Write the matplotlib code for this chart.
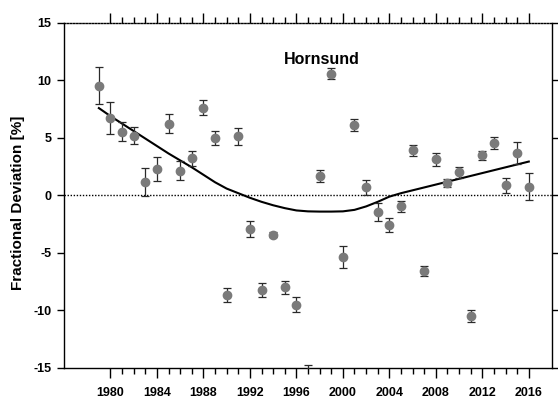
import matplotlib
matplotlib.use("Agg")
import matplotlib.pyplot as plt
from matplotlib.ticker import FixedLocator

plt.rcParams['font.family'] = ['Liberation Sans', 'DejaVu Sans']
plt.rcParams['axes.unicode_minus'] = False

# Annual fractional deviation at Hornsund with 1-sigma errors
years = list(range(1979, 2017))
deviation = [9.55, 6.71, 5.55, 5.2, 1.17, 2.28, 6.25, 2.16, 3.23, 7.64,
             5.0, -8.62, 5.14, -2.91, -8.22, -3.4, -7.98, -9.49, -15.4, 1.7,
             10.59, -5.38, 6.13, 0.71, -1.41, -2.57, -0.94, 3.93, -6.59, 3.15,
             1.11, 2.04, -10.48, 3.49, 4.57, 0.88, 3.72, 0.77]
errors = [1.6, 1.4, 0.8, 0.75, 1.25, 1.05, 0.85, 0.85, 0.65, 0.65,
          0.6, 0.6, 0.75, 0.68, 0.65, 0.25, 0.58, 0.68, 0.7, 0.52,
          0.5, 0.96, 0.5, 0.65, 0.8, 0.6, 0.5, 0.48, 0.45, 0.58,
          0.35, 0.48, 0.55, 0.42, 0.54, 0.65, 0.97, 1.2]
# smoothed trend
trend = [7.6, 6.9, 6.25, 5.6, 4.95, 4.3, 3.65, 3.05, 2.45, 1.8,
         1.15, 0.6, 0.2, -0.2, -0.55, -0.85, -1.1, -1.3, -1.38, -1.4,
         -1.4, -1.38, -1.25, -0.95, -0.55, -0.1, 0.2, 0.45, 0.7, 0.95,
         1.2, 1.45, 1.7, 1.95, 2.2, 2.45, 2.7, 2.95]

major_years = list(range(1980, 2017, 4))
minor_years = [y for y in range(1980, 2017) if y not in major_years]
yticks = [-15, -10, -5, 0, 5, 10, 15]

fig = plt.figure(figsize=(5.58, 3.99), dpi=100)
ax = fig.add_axes([0.1147, 0.0777, 0.8746, 0.8647])

ax.axhline(0, color='black', lw=1.0, linestyle=(0, (1, 1.2)), zorder=1)
ax.plot(years, trend, color='black', lw=1.5, zorder=2)
ax.errorbar(years, deviation, yerr=errors, fmt='o', color='#7a7a7a',
            markersize=6, ecolor='#2a2a2a', elinewidth=0.9,
            capsize=3, capthick=0.9, zorder=3)

ax.text(1998.2, 11.8, 'Hornsund', ha='center', va='center',
        fontsize=11.5, fontweight='bold')

ax.set_xlim(1976, 2018)
ax.set_ylim(-15, 15)

ax.xaxis.set_major_locator(FixedLocator(major_years))
ax.xaxis.set_minor_locator(FixedLocator(minor_years))
ax.set_xticklabels([str(y) for y in major_years])
ax.set_yticks(yticks)
ax.set_yticklabels([str(v) for v in yticks])

ax.tick_params(axis='x', which='both', direction='out', top=True,
               bottom=True, width=1, labelsize=9, pad=6)
ax.tick_params(axis='x', which='major', length=7.5)
ax.tick_params(axis='x', which='minor', length=4.2)
ax.tick_params(axis='y', which='major', direction='out', left=True,
               right=True, length=5, width=1, labelsize=9, pad=4)
for lab in ax.get_xticklabels() + ax.get_yticklabels():
    lab.set_fontweight('bold')

ax.spines['top'].set_linestyle((0, (1, 1.2)))
for side in ['left', 'right', 'bottom', 'top']:
    ax.spines[side].set_linewidth(1.0)

ax.set_ylabel('Fractional Deviation [%]', fontsize=11, fontweight='bold')
ax.yaxis.set_label_coords(-0.079, 0.478)

fig.savefig('out.png', dpi=100)
